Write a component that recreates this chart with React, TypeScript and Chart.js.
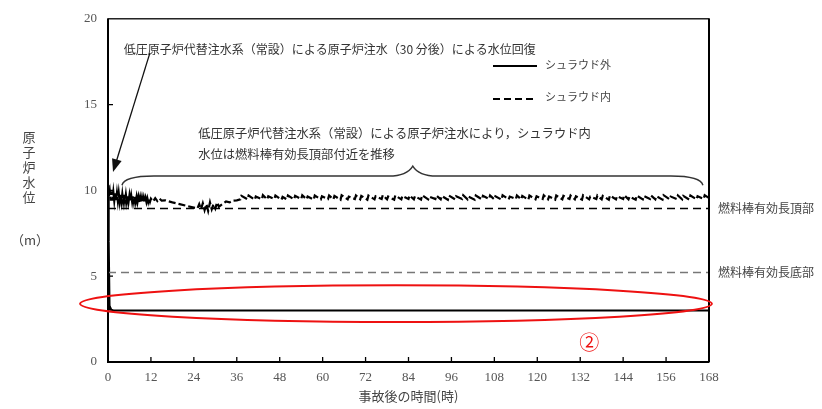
import { useEffect, useRef } from "react";
import { Chart, registerables } from "chart.js";

Chart.register(...registerables);

// ---- data ----
const outsideHours = [0, 0.2, 0.45, 0.6, 0.9, 1.5, 3, 168];
const outsideLevel = [10.3, 7.0, 3.0, 3.2, 3.05, 3.0, 3.0, 3.0];

// [hour, level] readings of the shroud-inside water level
const insideReadings: [number, number][] = [
  [0, 10.1], [0.2, 9.6], [0.5, 9.95],
  [0.75, 9.4], [1.0, 9.95], [1.25, 9.4], [1.5, 9.9], [1.75, 9.4], [2.0, 9.9], [2.25, 9.38], [2.5, 9.85],
  [2.75, 9.38], [3.0, 9.85], [3.25, 9.36], [3.5, 9.82], [3.75, 9.36], [4.0, 9.8], [4.25, 9.35], [4.5, 9.78],
  [4.75, 9.35], [5.0, 9.76], [5.25, 9.34], [5.5, 9.74], [5.75, 9.34], [6.0, 9.72], [6.25, 9.33], [6.5, 9.7],
  [6.75, 9.33], [7.0, 9.68], [7.25, 9.32], [7.5, 9.66], [7.75, 9.32], [8.0, 9.64], [8.25, 9.32], [8.5, 9.62],
  [8.75, 9.3], [9.0, 9.6], [9.25, 9.3], [9.5, 9.6], [9.75, 9.3], [10.0, 9.58], [10.25, 9.3], [10.5, 9.56],
  [10.75, 9.32], [11.0, 9.55], [11.25, 9.32], [11.5, 9.54], [11.75, 9.34], [12.0, 9.52],
  [12.6, 9.36], [13.2, 9.55], [13.8, 9.38], [14.4, 9.52], [15.0, 9.4], [16.0, 9.42], [18, 9.3], [20, 9.2],
  [22, 9.1], [24, 9.0], [25, 8.95], [25.5, 9.2], [26, 8.9], [26.5, 9.25], [27, 8.85], [27.5, 9.2], [28, 8.8],
  [28.5, 9.3], [29, 8.9], [29.5, 9.2], [30, 8.95], [30.5, 9.3], [31, 9.05], [32, 9.2], [33, 9.35], [34, 9.3],
  [35, 9.4], [36, 9.42],
  [37, 9.48], [37.3, 9.68], [39, 9.48], [39.3, 9.7], [41, 9.46], [41.3, 9.64], [43, 9.48], [43.3, 9.72],
  [44.5, 9.48], [44.8, 9.66], [46.5, 9.5], [46.8, 9.7], [48.5, 9.46], [48.8, 9.62], [50, 9.48], [50.3, 9.7],
  [52, 9.48], [52.3, 9.68], [54, 9.5], [54.3, 9.72], [55.5, 9.48], [55.8, 9.64], [57.5, 9.46], [57.8, 9.7],
  [59.5, 9.48], [59.8, 9.66], [61.5, 9.5], [61.8, 9.7], [63, 9.48], [63.3, 9.68], [65, 9.46], [65.3, 9.72],
  [67, 9.48], [67.3, 9.64], [69, 9.5], [69.3, 9.7], [70.5, 9.48], [70.8, 9.68], [72.5, 9.46], [72.8, 9.7],
  [74.5, 9.48], [74.8, 9.66], [76.5, 9.5], [76.8, 9.72], [78, 9.48], [78.3, 9.64], [80, 9.46], [80.3, 9.7],
  [82, 9.48], [82.3, 9.68], [84, 9.5], [84.3, 9.7], [85.5, 9.48], [85.8, 9.66], [87.5, 9.46], [87.8, 9.72],
  [89.5, 9.48], [89.8, 9.64], [91.5, 9.5], [91.8, 9.7], [93, 9.48], [93.3, 9.68], [95, 9.46], [95.3, 9.7],
  [97, 9.48], [97.3, 9.66], [99, 9.5], [99.3, 9.72], [100.5, 9.48], [100.8, 9.64], [102.5, 9.46], [102.8, 9.7],
  [104.5, 9.48], [104.8, 9.68], [106.5, 9.5], [106.8, 9.7], [108, 9.48], [108.3, 9.66], [110, 9.46], [110.3, 9.72],
  [112, 9.48], [112.3, 9.64], [114, 9.5], [114.3, 9.7], [115.5, 9.48], [115.8, 9.68], [117.5, 9.46], [117.8, 9.7],
  [119.5, 9.48], [119.8, 9.66], [121.5, 9.5], [121.8, 9.72], [123, 9.48], [123.3, 9.64], [125, 9.46], [125.3, 9.7],
  [127, 9.48], [127.3, 9.68], [129, 9.5], [129.3, 9.7], [130.5, 9.48], [130.8, 9.66], [132.5, 9.46], [132.8, 9.72],
  [134.5, 9.48], [134.8, 9.64], [136.5, 9.5], [136.8, 9.7], [138, 9.48], [138.3, 9.68], [140, 9.46], [140.3, 9.7],
  [142, 9.48], [142.3, 9.66], [144, 9.5], [144.3, 9.72], [145.5, 9.48], [145.8, 9.64], [147.5, 9.46], [147.8, 9.7],
  [149.5, 9.48], [149.8, 9.68], [151.5, 9.5], [151.8, 9.7], [153, 9.48], [153.3, 9.66], [155, 9.46], [155.3, 9.72],
  [157, 9.48], [157.3, 9.64], [159, 9.5], [159.3, 9.7], [160.5, 9.48], [160.8, 9.68], [162.5, 9.46], [162.8, 9.7],
  [164.5, 9.48], [164.8, 9.66], [166.5, 9.5], [166.8, 9.72], [168, 9.55],
];

const refHours = [0, 168];
const tafLevel = 8.95; // 燃料棒有効長頂部
const bafLevel = 5.22; // 燃料棒有効長底部

const xMin = 0;
const xMax = 168;
const xStep = 12;
const yMin = 0;
const yMax = 20;
const yStep = 5;

const seriesOutsideLabel = "シュラウド外";
const seriesInsideLabel = "シュラウド内";
const tafLabel = "燃料棒有効長頂部";
const bafLabel = "燃料棒有効長底部";
const noteTop = "低圧原子炉代替注水系（常設）による原子炉注水（30 分後）による水位回復";
const noteMid1 = "低圧原子炉代替注水系（常設）による原子炉注水により，シュラウド内";
const noteMid2 = "水位は燃料棒有効長頂部付近を推移";
const yTitleChars = ["原", "子", "炉", "水", "位"];
const yUnit = "（m）";
const xTitle = "事故後の時間(時)";
const circled = "②";

const SERIF = "'Liberation Serif', 'DejaVu Serif', 'Noto Sans CJK JP', serif";
const JP = "'Noto Sans CJK JP', 'Liberation Serif', serif";

const decorPlugin = {
  id: "decor",
  afterDraw(chart: any) {
    const { ctx, chartArea: a, scales } = chart;
    const xs = scales.x;
    const ys = scales.y;
    const px = (t: number) => xs.getPixelForValue(t);
    const py = (v: number) => ys.getPixelForValue(v);
    ctx.save();

    // frame
    ctx.strokeStyle = "#000";
    ctx.lineWidth = 1.3;
    ctx.strokeRect(a.left, a.top, a.right - a.left, a.bottom - a.top);
    ctx.lineWidth = 2;
    ctx.beginPath();
    ctx.moveTo(a.left, a.top);
    ctx.lineTo(a.left, a.bottom);
    ctx.lineTo(a.right, a.bottom);
    ctx.moveTo(a.right, a.top);
    ctx.lineTo(a.right, a.bottom);
    ctx.stroke();

    // inward ticks
    ctx.lineWidth = 1.3;
    ctx.beginPath();
    for (let v = yMin + yStep; v < yMax; v += yStep) {
      ctx.moveTo(a.left, py(v));
      ctx.lineTo(a.left + 5, py(v));
    }
    for (let t = xMin + xStep; t < xMax; t += xStep) {
      ctx.moveTo(px(t), a.bottom);
      ctx.lineTo(px(t), a.bottom - 5);
    }
    ctx.stroke();

    // y title
    ctx.fillStyle = "#444";
    ctx.font = `13px ${JP}`;
    ctx.textAlign = "center";
    ctx.textBaseline = "middle";
    yTitleChars.forEach((c, i) => ctx.fillText(c, 29, 137 + i * 15));
    ctx.fillText(yUnit, 30, 240);

    // x title
    ctx.font = `13px ${JP}`;
    ctx.fillText(xTitle, (a.left + a.right) / 2, 396);

    // right labels
    ctx.font = `12px ${JP}`;
    ctx.textAlign = "left";
    ctx.fillText(tafLabel, a.right + 9, py(tafLevel));
    ctx.fillText(bafLabel, a.right + 9, py(bafLevel));

    // notes
    ctx.fillStyle = "#333";
    ctx.fillText(noteTop, px(4.4), py(18.2));
    ctx.font = `12.3px ${JP}`;
    ctx.fillText(noteMid1, px(25.2), py(13.3));
    ctx.fillText(noteMid2, px(25.2), py(12.1));

    // arrow
    const ax0 = px(11.7), ay0 = py(18.0);
    const ax1 = px(1.4), ay1 = py(11.07);
    const ang = Math.atan2(ay1 - ay0, ax1 - ax0);
    ctx.strokeStyle = "#111";
    ctx.fillStyle = "#111";
    ctx.lineWidth = 1.3;
    ctx.beginPath();
    ctx.moveTo(ax0, ay0);
    ctx.lineTo(ax1 - 10 * Math.cos(ang), ay1 - 10 * Math.sin(ang));
    ctx.stroke();
    ctx.beginPath();
    ctx.moveTo(ax1, ay1);
    ctx.lineTo(ax1 - 13 * Math.cos(ang) + 5 * Math.sin(ang), ay1 - 13 * Math.sin(ang) - 5 * Math.cos(ang));
    ctx.lineTo(ax1 - 13 * Math.cos(ang) - 5 * Math.sin(ang), ay1 - 13 * Math.sin(ang) + 5 * Math.cos(ang));
    ctx.closePath();
    ctx.fill();

    // brace
    const bL = px(3.9), bR = px(166.3), bC = px(85.2);
    const bTip = py(10.3), bLine = py(10.84), bCusp = py(11.42);
    ctx.strokeStyle = "#333";
    ctx.lineWidth = 1.4;
    ctx.beginPath();
    ctx.moveTo(bL, bTip);
    ctx.quadraticCurveTo(bL + 2, bLine, bL + 32, bLine);
    ctx.lineTo(bC - 24, bLine);
    ctx.quadraticCurveTo(bC - 6, bLine, bC, bCusp);
    ctx.quadraticCurveTo(bC + 6, bLine, bC + 24, bLine);
    ctx.lineTo(bR - 32, bLine);
    ctx.quadraticCurveTo(bR - 2, bLine, bR, bTip);
    ctx.stroke();

    // legend
    const lx0 = a.left + 385, lx1 = a.left + 429;
    ctx.strokeStyle = "#000";
    ctx.lineWidth = 2;
    ctx.beginPath();
    ctx.moveTo(lx0, 66);
    ctx.lineTo(lx1, 66);
    ctx.stroke();
    ctx.setLineDash([7, 4]);
    ctx.beginPath();
    ctx.moveTo(lx0, 99);
    ctx.lineTo(lx1, 99);
    ctx.stroke();
    ctx.setLineDash([]);
    ctx.fillStyle = "#444";
    ctx.font = `11px ${JP}`;
    ctx.textAlign = "left";
    ctx.fillText(seriesOutsideLabel, lx1 + 8, 65);
    ctx.fillText(seriesInsideLabel, lx1 + 8, 97);

    // red ellipse
    ctx.strokeStyle = "#ee1111";
    ctx.lineWidth = 2;
    const ecx = px(80.5), ecy = py(3.4);
    const erx = px(80.5 + 88.3) - ecx;
    const ery = py(3.4) - py(3.4 + 1.07);
    ctx.beginPath();
    ctx.ellipse(ecx, ecy, erx, ery, 0, 0, Math.PI * 2);
    ctx.stroke();

    ctx.fillStyle = "#ee1111";
    ctx.font = `20px ${JP}`;
    ctx.textAlign = "center";
    ctx.fillText(circled, px(134.5), py(1.15));

    ctx.restore();
  },
};

export default function App() {
  const ref = useRef<HTMLCanvasElement>(null);
  useEffect(() => {
    document.body.style.margin = "0";
    const canvas = ref.current;
    if (!canvas) return;
    const toPts = (xs: number[], ys: number[]) => xs.map((x, i) => ({ x, y: ys[i] }));
    const chart = new Chart(canvas, {
      type: "line",
      data: {
        datasets: [
          {
            label: bafLabel,
            data: toPts(refHours, [bafLevel, bafLevel]),
            borderColor: "#777",
            borderWidth: 1.5,
            borderDash: [8, 5],
            pointRadius: 0,
          },
          {
            label: tafLabel,
            data: toPts(refHours, [tafLevel, tafLevel]),
            borderColor: "#000",
            borderWidth: 1.5,
            borderDash: [8, 5],
            pointRadius: 0,
          },
          {
            label: seriesOutsideLabel,
            data: toPts(outsideHours, outsideLevel),
            borderColor: "#000",
            borderWidth: 2,
            pointRadius: 0,
          },
          {
            label: seriesInsideLabel,
            data: insideReadings.map(([x, y]) => ({ x, y })),
            borderColor: "#000",
            borderWidth: 2.2,
            borderDash: [7, 3],
            pointRadius: 0,
          },
        ],
      },
      options: {
        animation: false,
        responsive: true,
        maintainAspectRatio: false,
        layout: { padding: { left: 0, right: 113, top: 15, bottom: 0 } },
        plugins: { legend: { display: false }, tooltip: { enabled: false } },
        scales: {
          x: {
            type: "linear",
            min: xMin,
            max: xMax,
            grid: { display: false, drawTicks: false },
            border: { display: false },
            ticks: {
              stepSize: xStep,
              color: "#555",
              font: { family: SERIF, size: 13 },
              padding: 8,
              maxRotation: 0,
              autoSkip: false,
            },
            afterFit: (s: any) => {
              s.height = 47;
            },
          },
          y: {
            type: "linear",
            min: yMin,
            max: yMax,
            grid: { display: false, drawTicks: false },
            border: { display: false },
            ticks: {
              stepSize: yStep,
              color: "#555",
              font: { family: SERIF, size: 13 },
              padding: 11,
            },
            afterFit: (s: any) => {
              s.width = 108;
            },
          },
        },
      },
      plugins: [decorPlugin],
    });
    return () => chart.destroy();
  }, []);
  return (
    <div style={{ width: 822, height: 409, position: "relative" }}>
      <canvas ref={ref} />
    </div>
  );
}
